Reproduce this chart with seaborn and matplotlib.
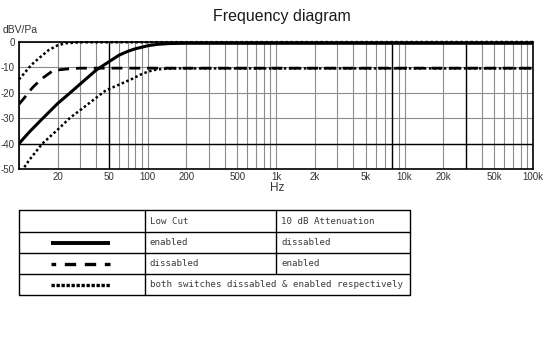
import matplotlib
matplotlib.use("Agg")
import matplotlib.pyplot as plt
import seaborn as sns

# ---------------- data ----------------
title = "Frequency diagram"
y_unit = "dBV/Pa"
x_unit = "Hz"

lowcut_freq = [10, 12, 15, 20, 25, 30, 40, 50, 60, 70, 80, 100, 120, 150, 200, 100000]
lowcut_db = [-40, -35.5, -30.5, -24.2, -20, -16.5, -11, -7.8, -5.2, -3.7, -2.7, -1.5, -0.9, -0.6, -0.5, -0.5]

atten_freq = [10, 11, 12, 13, 15, 18, 20, 25, 30, 100000]
atten_db = [-24.5, -22, -19.5, -17.5, -14.5, -11.6, -11, -10.5, -10.3, -10.3]

both_off_freq = [10, 11, 12, 13, 14, 15, 17, 20, 23, 30, 100000]
both_off_db = [-14.7, -12.3, -10, -8.2, -6.8, -5.5, -3.2, -1.3, -0.5, -0.1, 0]

both_on_freq = [11, 12, 15.2, 20, 25, 30, 40, 47.5, 60, 76, 92, 110, 130, 160, 200, 100000]
both_on_db = [-49.3, -46.5, -40, -34.5, -29.8, -26.8, -21.9, -19, -16.8, -14.5, -12.4, -11.1, -10.6, -10.4, -10.4, -10.4]

tick_freqs = [20, 50, 100, 200, 500, 1000, 2000, 5000, 10000, 20000, 50000, 100000]
tick_labels = ["20", "50", "100", "200", "500", "1k", "2k", "5k", "10k", "20k", "50k", "100k"]
grid_mult = [1, 2, 3, 4, 5, 6, 7, 8, 9]
grid_decades = [10, 100, 1000, 10000]
y_ticks = [0, -10, -20, -30, -40, -50]
y_tick_labels = ["0", "-10", "-20", "-30", "-40", "-50"]
highlight_freqs = [50, 8000, 30000]
highlight_db = [-40]

table_header = ["", "Low Cut", "10 dB Attenuation"]
table_rows = [["enabled", "dissabled"],
              ["dissabled", "enabled"],
              ["both switches dissabled & enabled respectively"]]

# ---------------- style ----------------
sns.set_theme(style="white")
plt.rcParams["font.family"] = ["Liberation Sans", "DejaVu Sans"]

W, H = 550, 337
fig = plt.figure(figsize=(5.5, 3.37), dpi=100)
fig.patch.set_facecolor("white")

# main axes in pixel geometry
L, R, T, B = 19, 533, 42, 169
ax = fig.add_axes([L / W, 1 - B / H, (R - L) / W, (B - T) / H])
ax.set_xscale("log")
ax.set_xlim(10, 100000)
ax.set_ylim(-50, 0)

grid_freqs = [m * d for d in grid_decades for m in grid_mult] + [100000]
ax.set_xticks(grid_freqs, minor=True)
ax.set_xticks(tick_freqs)
ax.set_xticklabels(tick_labels)
ax.set_xticklabels([], minor=True)
ax.set_yticks(y_ticks)
ax.set_yticklabels(y_tick_labels)
ax.grid(which="both", axis="x", color="#8c8c8c", linewidth=0.8, zorder=1)
ax.grid(which="major", axis="y", color="#8c8c8c", linewidth=0.8, zorder=1)
ax.set_axisbelow(True)
for f in highlight_freqs:
    ax.axvline(f, color="black", linewidth=1.0, zorder=1.5)
for d in highlight_db:
    ax.axhline(d, color="black", linewidth=1.0, zorder=1.5)

ax.tick_params(axis="both", which="both", length=0, labelsize=7, colors="#333333")
ax.tick_params(axis="x", pad=2.5)
ax.tick_params(axis="y", pad=3)
for s in ax.spines.values():
    s.set_color("black")
    s.set_linewidth(1.2)
    s.set_visible(True)

# curves
sns.lineplot(x=lowcut_freq, y=lowcut_db, ax=ax, color="black", linewidth=2.2,
             sort=False, solid_capstyle="butt", zorder=4)
sns.lineplot(x=atten_freq, y=atten_db, ax=ax, color="black", linewidth=2.0,
             sort=False, linestyle=(0, (3.9, 2.5)), dash_capstyle="butt", zorder=4)
sns.lineplot(x=both_off_freq, y=both_off_db, ax=ax, color="black", linewidth=1.8,
             sort=False, linestyle=(0, (1, 1)), dash_capstyle="butt", zorder=5,
             clip_on=False)
sns.lineplot(x=both_on_freq, y=both_on_db, ax=ax, color="black", linewidth=1.8,
             sort=False, linestyle=(0, (1, 1)), dash_capstyle="butt", zorder=5)
ax.set_xlabel("")
ax.set_ylabel("")

fig.text(282 / W, 1 - 17 / H, title, ha="center", va="center", fontsize=11.5, color="#1a1a1a")
fig.text(3 / W, 1 - 30 / H, y_unit, ha="left", va="center", fontsize=7.5, color="#333333")
fig.text(277 / W, 1 - 188 / H, x_unit, ha="center", va="center", fontsize=8.5, color="#333333")

# ---------------- table legend ----------------
tL, tR, tT, tB = 19, 410, 210, 295
tax = fig.add_axes([tL / W, 1 - tB / H, (tR - tL) / W, (tB - tT) / H])
tax.set_xlim(tL, tR)
tax.set_ylim(tB, tT)
tax.axis("off")
rows_y = [210, 232, 253, 274, 295]
col_x = [19, 145, 276, 410]
lk = dict(color="black", linewidth=1.0, clip_on=False)
for yv in rows_y:
    tax.plot([tL, tR], [yv, yv], **lk)
tax.plot([tL, tL], [tT, tB], **lk)
tax.plot([tR, tR], [tT, tB], **lk)
tax.plot([col_x[1], col_x[1]], [tT, tB], **lk)
tax.plot([col_x[2], col_x[2]], [tT, rows_y[3]], **lk)

mono = dict(family=["DejaVu Sans Mono"], fontsize=6.6, color="#3a3a3a", va="center", ha="left")
tax.text(col_x[1] + 5, (rows_y[0] + rows_y[1]) / 2, table_header[1], **mono)
tax.text(col_x[2] + 5, (rows_y[0] + rows_y[1]) / 2, table_header[2], **mono)
for i, row in enumerate(table_rows):
    yc = (rows_y[i + 1] + rows_y[i + 2]) / 2
    tax.text(col_x[1] + 5, yc, row[0], **mono)
    if len(row) > 1:
        tax.text(col_x[2] + 5, yc, row[1], **mono)

sx = [51, 110]
tax.plot(sx, [242.5, 242.5], color="black", linewidth=2.8, solid_capstyle="butt")
tax.plot(sx, [263.5, 263.5], color="black", linewidth=2.4,
         linestyle=(2.0, (3.4, 2.6)), dash_capstyle="butt")
tax.plot(sx, [284.5, 284.5], color="black", linewidth=2.4,
         linestyle=(0, (1, 0.5)), dash_capstyle="butt")

fig.savefig("out.png", dpi=100, facecolor="white")
